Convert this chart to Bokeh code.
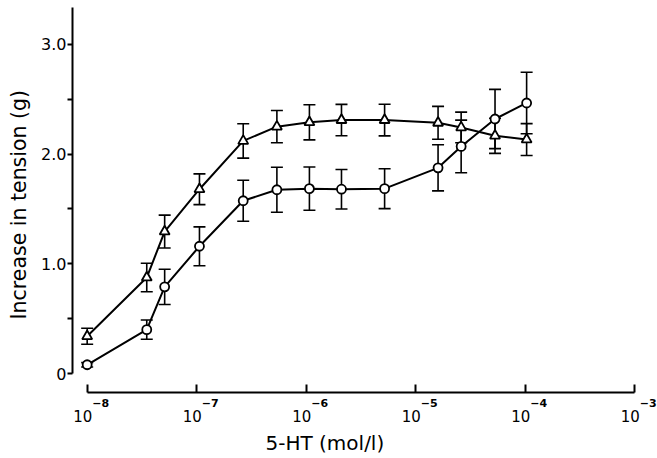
from bokeh.plotting import figure
from bokeh.models import (ColumnDataSource, Whisker, TeeHead, FixedTicker, Title,
                          CustomJSTickFormatter, Range1d, LogAxis)
from bokeh.embed import file_html
from bokeh.resources import INLINE

# ---- data ----
conc = [1.0e-8, 3.5e-8, 5.1e-8, 1.06e-7, 2.66e-7, 5.4e-7, 1.07e-6, 2.1e-6,
        5.2e-6, 1.6e-5, 2.6e-5, 5.3e-5, 1.03e-4]
circle_mean = [0.08, 0.40, 0.79, 1.16, 1.575, 1.675, 1.685, 1.68, 1.685,
               1.875, 2.07, 2.32, 2.466]
circle_sem = [0.02, 0.088, 0.16, 0.177, 0.187, 0.205, 0.197, 0.18, 0.182,
              0.21, 0.24, 0.27, 0.28]
triangle_mean = [0.34, 0.875, 1.294, 1.68, 2.12, 2.25, 2.29, 2.31, 2.31,
                 2.285, 2.243, 2.167, 2.133]
triangle_sem = [0.073, 0.13, 0.15, 0.14, 0.157, 0.147, 0.16, 0.143, 0.144,
                0.15, 0.14, 0.16, 0.145]

x_tick_values = [1e-8, 1e-7, 1e-6, 1e-5, 1e-4, 1e-3]
x_tick_base = ["10", "10", "10", "10", "10", "10"]
x_tick_exponents = ["\u22128", "\u22127", "\u22126", "\u22125", "\u22124", "\u22123"]
y_major_ticks = [0, 1.0, 2.0, 3.0]
y_minor_ticks = [0.5, 1.5, 2.5]
x_title = "5-HT (mol/l)"
y_title = "Increase in tension (g)"

FONT = "DejaVu Sans"

# x range of the frame, in decades
LOG_LO, LOG_HI = -8.134, -2.856
PX_PER_DECADE = 109.5
BASE_SHIFT = -4.5 / PX_PER_DECADE     # "10" sits a little left of each tick
EXP_SHIFT = 13.5 / PX_PER_DECADE      # exponent sits to the upper right

p = figure(width=657, height=458, x_axis_type="log",
           x_range=Range1d(10 ** LOG_LO, 10 ** LOG_HI),
           y_range=Range1d(-0.1727, 3.4),
           output_backend="svg", toolbar_location=None,
           min_border_left=72, min_border_right=7,
           min_border_top=0, min_border_bottom=65)
p.extra_x_ranges = {
    "base": Range1d(10 ** (LOG_LO - BASE_SHIFT), 10 ** (LOG_HI - BASE_SHIFT)),
    "exp": Range1d(10 ** (LOG_LO - EXP_SHIFT), 10 ** (LOG_HI - EXP_SHIFT)),
}
p.outline_line_color = None
p.xgrid.visible = False
p.ygrid.visible = False
p.background_fill_color = "white"
p.border_fill_color = "white"

# ---- y axis ----
ya = p.yaxis[0]
ya.ticker = FixedTicker(ticks=y_major_ticks, minor_ticks=y_minor_ticks)
ya.formatter = CustomJSTickFormatter(code="return tick == 0 ? '0' : tick.toFixed(1);")
ya.bounds = (0, 3.34)
ya.axis_line_width = 2
ya.major_tick_line_width = 2
ya.minor_tick_line_width = 2
ya.major_tick_out = 5
ya.major_tick_in = 0
ya.minor_tick_out = 5
ya.minor_tick_in = 0
ya.major_label_standoff = 1
ya.major_label_text_font = FONT
ya.major_label_text_font_size = "16px"
ya.major_label_text_color = "black"

p.add_layout(Title(text=y_title, align="left", offset=73, vertical_align="top",
                   standoff=12, text_font=FONT, text_font_size="20.5px",
                   text_font_style="normal", text_color="black"), "left")

# ---- x axis: line and ticks ----
xa = p.xaxis[0]
xa.ticker = FixedTicker(ticks=x_tick_values, minor_ticks=[])
xa.formatter = CustomJSTickFormatter(code="return '';")
xa.bounds = (1e-8, 1e-3)
xa.axis_line_width = 2
xa.major_tick_line_width = 2
xa.major_tick_in = 8
xa.major_tick_out = 0
xa.minor_tick_in = 0
xa.minor_tick_out = 0
xa.major_label_standoff = 0


def label_axis(range_name, labels, size, style, standoff):
    ax = LogAxis(x_range_name=range_name,
                 ticker=FixedTicker(ticks=x_tick_values, minor_ticks=[]),
                 major_label_overrides={v: s for v, s in zip(x_tick_values, labels)},
                 axis_line_color=None, major_tick_line_color=None,
                 minor_tick_line_color=None, major_tick_in=0, major_tick_out=0,
                 major_label_standoff=standoff, major_label_text_font=FONT,
                 major_label_text_font_size=size, major_label_text_font_style=style,
                 major_label_text_color="black")
    p.add_layout(ax, "below")


label_axis("base", x_tick_base, "15px", "normal", 17)
label_axis("exp", x_tick_exponents, "11px", "bold", -26)

p.add_layout(Title(text=x_title, align="left", offset=193, standoff=8,
                   text_font=FONT, text_font_size="20px", text_font_style="normal",
                   text_color="black"), "below")

# ---- data series ----
src = ColumnDataSource(dict(
    x=conc,
    c=circle_mean, c_lo=[m - s for m, s in zip(circle_mean, circle_sem)],
    c_hi=[m + s for m, s in zip(circle_mean, circle_sem)],
    t=triangle_mean, t_lo=[m - s for m, s in zip(triangle_mean, triangle_sem)],
    t_hi=[m + s for m, s in zip(triangle_mean, triangle_sem)],
))

for lo, hi in (("c_lo", "c_hi"), ("t_lo", "t_hi")):
    p.add_layout(Whisker(source=src, base="x", lower=lo, upper=hi, dimension="height",
                         line_color="black", line_width=1.6,
                         upper_head=TeeHead(size=12, line_width=1.6, line_color="black"),
                         lower_head=TeeHead(size=12, line_width=1.6, line_color="black")))

p.line("x", "c", source=src, line_color="black", line_width=2)
p.line("x", "t", source=src, line_color="black", line_width=2)
p.scatter("x", "c", source=src, marker="circle", size=9, fill_color="white",
          line_color="black", line_width=1.8)
p.scatter("x", "t", source=src, marker="triangle", size=10, fill_color="white",
          line_color="black", line_width=1.8)

open("out.html", "w").write(file_html(p, INLINE))
